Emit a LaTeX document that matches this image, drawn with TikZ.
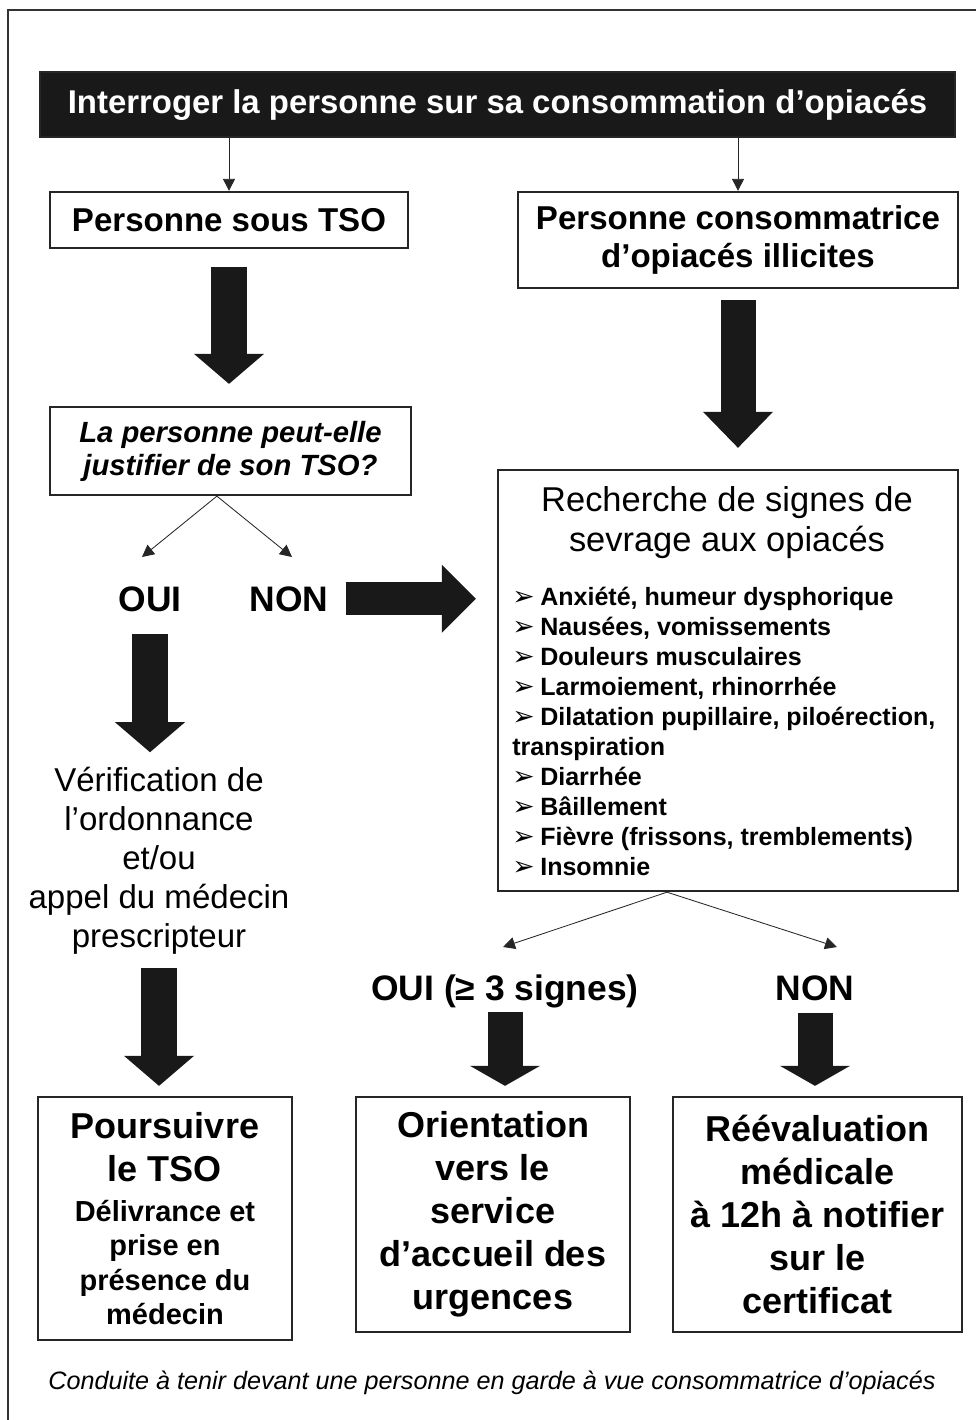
\documentclass[tikz,border=0pt]{standalone}
\usepackage{fontspec}
\setmainfont{Liberation Sans}
\newfontfamily\symfont{DejaVu Sans}
\usetikzlibrary{arrows.meta}
\newcommand{\puce}{\makebox[0.7cm][l]{\symfont\fontsize{19}{19}\selectfont ➢}}

\begin{document}
\begin{tikzpicture}[x = 0.025cm, y = -0.025cm,
  box/.style = {draw = black!85, line width = 1.6pt, inner sep = 0pt,
    align = flush center},
  answer/.style = {inner sep = 0pt, anchor = base, font = \bfseries\fontsize{25.2}{30}\selectfont},
  symptom/.style = {inner sep = 0pt, anchor = base west, font = \bfseries\fontsize{17.8}{21.3}\selectfont},
  thinarrow/.style = {line width = 0.6pt, black!85, -{Triangle[length = 0.3cm, width = 0.3cm]}},
  bigarrow/.style = {line width = 0.875cm, draw = black!90,
    -{Triangle[length = #1, width = 1.75cm, line width = 0pt]}},
  bigarrow/.default = 0.75cm]
  \useasboundingbox (0, 0) rectangle (976, 1420);
  \draw[black!80, line width = 0.8pt] (8, 1420) -- (8, 10) -- (976, 10);

  \node[box, fill = black!90, text = white, minimum width = 22.875cm,
  minimum height = 1.625cm, font = \bfseries\fontsize{23.4}{27}\selectfont]
  (hdr) at (497.5, 104.5) {Interroger la personne sur sa consommation d’opiacés};

  \node[box, minimum width = 8.95cm, minimum height = 1.4cm,
  font = \bfseries\fontsize{23.5}{27}\selectfont] (tso) at (229, 220)
  {Personne sous TSO};
  \node[box, minimum width = 11cm, minimum height = 2.4cm,
  font = \bfseries\fontsize{23.5}{27}\selectfont] (illicite) at (738, 240)
  {Personne consommatrice\\d’opiacés illicites};
  \node[box, minimum width = 9.025cm, minimum height = 2.2cm,
  font = \bfseries\itshape\fontsize{20.8}{23.5}\selectfont] (question)
  at (230.5, 451) {La personne peut-elle\\justifier de son TSO?};

  \node[answer] (oui) at (150, 611) {OUI};
  \node[answer] (non) at (289, 611) {NON};

  \node[box, minimum width = 11.5cm, minimum height = 10.525cm] (signes)
  at (728, 680.5) {};
  \node[inner sep = 0pt, align = center, font = \fontsize{24.5}{28.5}\selectfont]
  (titre) at (727, 523) {Recherche de signes de\\sevrage aux opiacés};
  \foreach \m/\t [count = \i] in {1/{Anxiété, humeur dysphorique},
    1/{Nausées, vomissements}, 1/Douleurs musculaires,
    1/{Larmoiement, rhinorrhée}, 1/{Dilatation pupillaire, piloérection,},
    0/transpiration, 1/Diarrhée, 1/Bâillement,
    1/{Fièvre (frissons, tremblements)}, 1/Insomnie}
  \node[symptom] (signe\i) at (512, 575 + 30*\i) {\ifnum\m=1 \puce\fi\t};

  \node[inner sep = 0pt, align = center, font = \fontsize{23.5}{27.7}\selectfont]
  (verif) at (159, 861) {Vérification de\\l’ordonnance\\et/ou\\appel du
    médecin\\prescripteur};

  \node[answer] (oui3) at (505, 1000) {OUI (≥ 3 signes)};
  \node[answer] (non3) at (815, 1000) {NON};

  \node[box, text width = 6.35cm, minimum height = 6.075cm,
  font = \bfseries\fontsize{25.6}{30.6}\selectfont] (poursuivre)
  at (165, 1218.5) {Poursuivre\\le TSO\par\vspace{3.9pt}{\fontsize{20.6}{24.5}%
      \selectfont Délivrance et\\prise en\\présence du\\médecin\par}};
  \node[box, text width = 6.85cm, minimum height = 5.875cm,
  font = \bfseries\fontsize{25.6}{30.6}\selectfont] (orientation)
  at (493, 1214.5) {Orientation\\vers le\\service\\d’accueil des\\urgences};
  \node[box, text width = 7.225cm, minimum height = 5.875cm,
  font = \bfseries\fontsize{25.6}{30.6}\selectfont] (reevaluation)
  at (817.5, 1214.5) {Réévaluation\\médicale\\à 12h à notifier\\sur
    le\\certificat};

  \node[inner sep = 0pt, font = \itshape\fontsize{17.9}{21}\selectfont]
  (legende) at (492, 1383) {Conduite à tenir devant une personne en garde à
    vue consommatrice d’opiacés};

  \draw[thinarrow] (hdr.south -| tso.north) -- (tso.north);
  \draw[thinarrow] (hdr.south -| illicite.north) -- (illicite.north);
  \draw[bigarrow, shorten <= 0.45cm, shorten >= 0.55cm] (tso.south) --
  (tso.south |- question.north);
  \draw[bigarrow = 0.9cm, shorten <= 0.275cm, shorten >= 0.525cm]
  (illicite.south) -- (illicite.south |- signes.north);

  \coordinate (ouitip) at (142, 557);
  \coordinate (nontip) at (292, 557);
  \draw[thinarrow] ([xshift = -0.34cm]question.south) -- (ouitip);
  \draw[thinarrow] ([xshift = -0.34cm]question.south) -- (nontip);
  \draw[bigarrow, line width = 0.825cm, -{Triangle[length = 0.85cm,
    width = 1.7cm, line width = 0pt]}, shorten <= 0.425cm,
  shorten >= 0.525cm] (non.east) -- (non.east -| signes.west);
  \draw[bigarrow, shorten <= 0.55cm, shorten >= 0.375cm] (oui.south) --
  (oui.south |- verif.north);
  \draw[bigarrow, shorten <= 0.325cm, shorten >= 0.25cm] (verif.south) --
  (verif.south |- poursuivre.north);

  \coordinate (oui3tip) at (503, 947);
  \coordinate (non3tip) at (837, 947);
  \draw[thinarrow] ([xshift = -1.525cm]signes.south) -- (oui3tip);
  \draw[thinarrow] ([xshift = -1.525cm]signes.south) -- (non3tip);
  \draw[bigarrow = 0.5cm, shorten <= 0.115cm, shorten >= 0.25cm] (oui3.south)
  -- (oui3.south |- orientation.north);
  \draw[bigarrow = 0.5cm, shorten <= 0.3cm, shorten >= 0.25cm] (non3.south) --
  (non3.south |- reevaluation.north);
\end{tikzpicture}
\end{document}
